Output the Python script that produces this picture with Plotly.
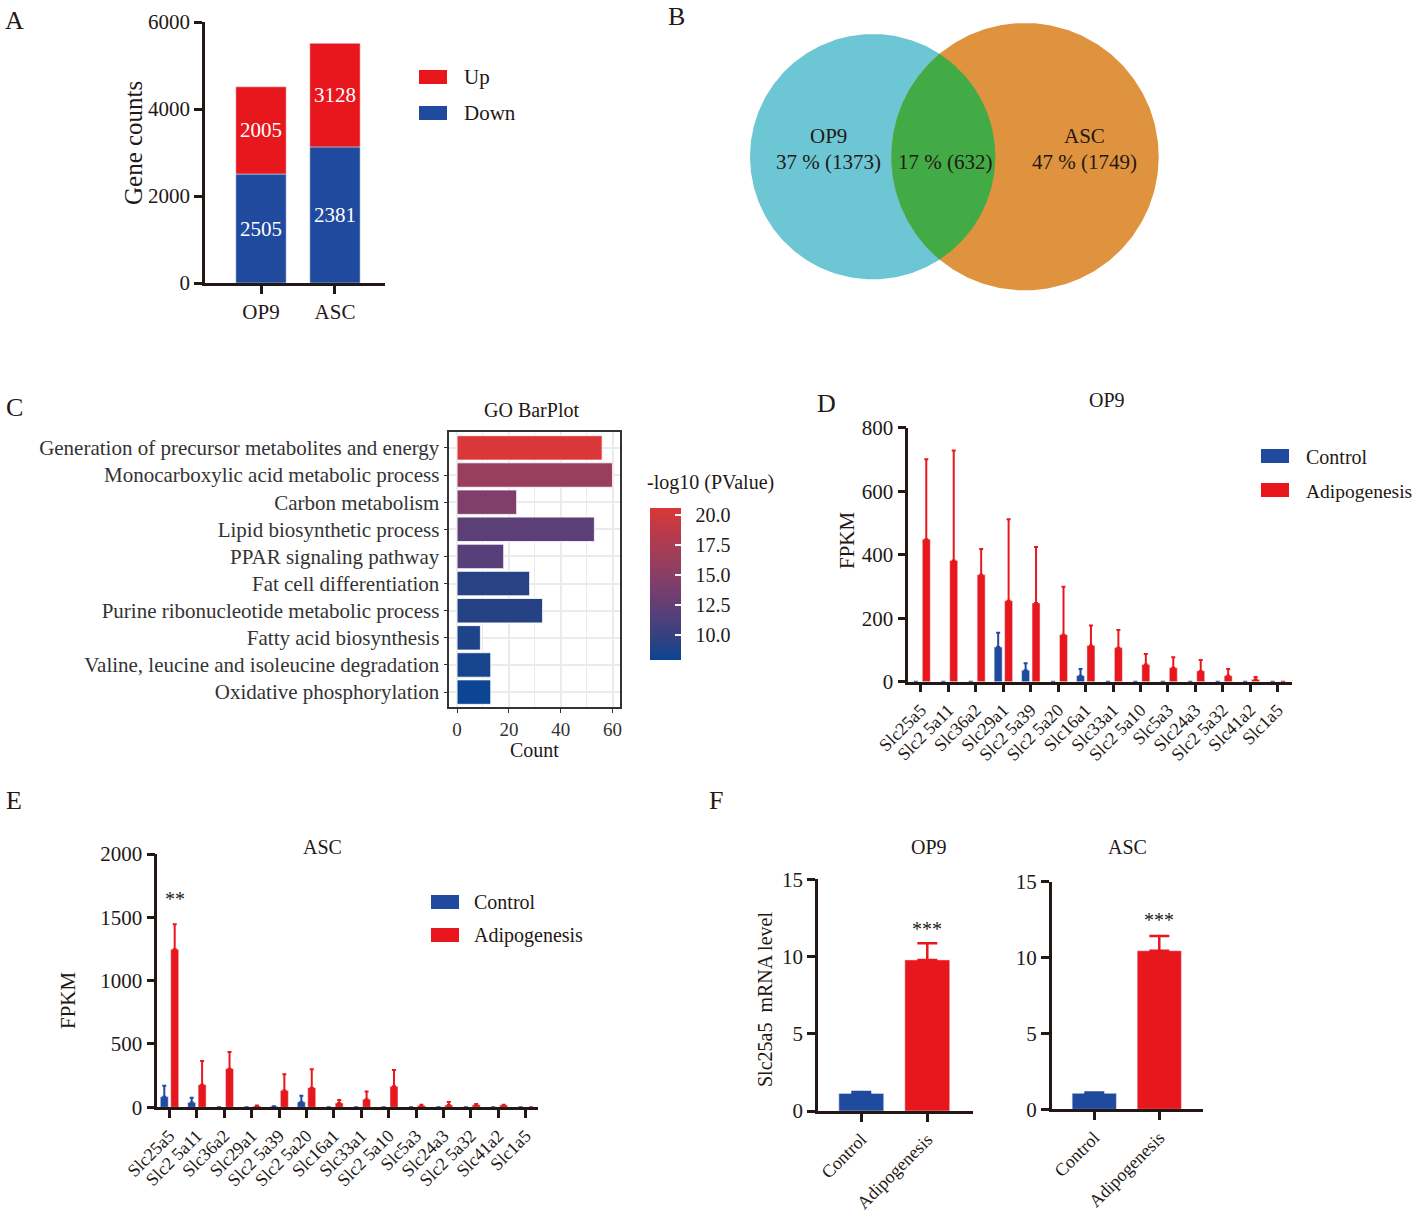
import numpy as np
import plotly.graph_objects as go

W, H = 1416, 1215
FONT = "Liberation Serif"
INK = "#231815"
RED = "#E8171D"
BLUE = "#1F4A9E"

# ---------------- data ----------------
# Panel A
a_groups = ["OP9", "ASC"]
a_down = [2505, 3128]
a_up = [2005, 2381]
a_down_labels = ["2505", "2381"]
a_up_labels = ["2005", "3128"]

# Panel B (Venn)
venn_names = ["OP9", "ASC"]
venn_only = [1373, 1749]
venn_shared = 632

# Panel C (GO barplot)
go_terms = [
    "Generation of precursor metabolites and energy",
    "Monocarboxylic acid metabolic process",
    "Carbon metabolism",
    "Lipid biosynthetic process",
    "PPAR signaling pathway",
    "Fat cell differentiation",
    "Purine ribonucleotide metabolic process",
    "Fatty acid biosynthesis",
    "Valine, leucine and isoleucine degradation",
    "Oxidative phosphorylation",
]
go_count = [56, 60, 23, 53, 18, 28, 33, 9, 13, 13]
go_logp = [20.6, 16.2, 14.3, 12.1, 11.7, 9.2, 9.1, 8.7, 8.4, 7.9]

# Panels D/E
genes = ["Slc25a5", "Slc2 5a11", "Slc36a2", "Slc29a1", "Slc2 5a39", "Slc2 5a20",
         "Slc16a1", "Slc33a1", "Slc2 5a10", "Slc5a3", "Slc24a3", "Slc2 5a32",
         "Slc41a2", "Slc1a5"]
d_ctrl = [0, 0, 0, 109, 36, 0, 19, 0, 0, 0, 0, 0, 0, 0]
d_ctrl_err = [0, 0, 0, 45, 22, 0, 21, 0, 0, 0, 0, 0, 0, 0]
d_adipo = [449, 382, 337, 255, 248, 148, 114, 107, 54, 44, 34, 19, 7, 0]
d_adipo_err = [252, 346, 81, 257, 176, 151, 63, 56, 33, 33, 34, 21, 8, 0]
e_ctrl = [84, 37, 0, 0, 8, 42, 0, 0, 0, 0, 0, 0, 0, 0]
e_ctrl_err = [87, 39, 0, 0, 0, 50, 0, 0, 0, 0, 0, 0, 0, 0]
e_adipo = [1247, 179, 305, 10, 132, 155, 34, 63, 166, 15, 18, 21, 18, 0]
e_adipo_err = [198, 187, 132, 5, 128, 145, 24, 61, 129, 5, 24, 5, 3, 0]

# Panel F
f_groups = ["Control", "Adipogenesis"]
f_op9 = [1.14, 9.78]
f_op9_err = [0.09, 1.08]
f_asc = [1.05, 10.45]
f_asc_err = [0.05, 0.97]


# ---------------- helpers ----------------
def xd(p0, p1):
    return [p0 / W, p1 / W]


def yd(top, bottom):
    return [1 - bottom / H, 1 - top / H]


def ann(text, px, py, size=20, angle=0, xanchor="center", yanchor="middle", color=INK):
    return dict(text=text, x=px / W, y=1 - py / H, xref="paper", yref="paper",
                showarrow=False, font=dict(family=FONT, size=size, color=color),
                textangle=angle, xanchor=xanchor, yanchor=yanchor)


def rect(x0, y0, x1, y1, color):
    return dict(type="rect", xref="paper", yref="paper", x0=x0 / W, x1=x1 / W,
                y0=1 - y1 / H, y1=1 - y0 / H, fillcolor=color, line_width=0, layer="above")


def line_axis(**kw):
    d = dict(showline=True, linecolor=INK, linewidth=2.5, ticks="outside", ticklen=8,
             tickwidth=2.5, tickcolor=INK, showgrid=False, zeroline=False, automargin=False,
             tickfont=dict(family=FONT, size=21, color=INK), fixedrange=True)
    d.update(kw)
    return d


fig = go.Figure()
annotations = []
shapes = []

# ---------------- Panel A ----------------
fig.add_trace(go.Bar(x=a_groups, y=a_down, marker_color=BLUE, width=0.68,
                     text=a_down_labels, textposition="inside", insidetextanchor="middle",
                     textangle=0, constraintext="none",
                     textfont=dict(family=FONT, size=21, color="white"),
                     xaxis="x", yaxis="y", hoverinfo="skip"))
fig.add_trace(go.Bar(x=a_groups, y=a_up, base=a_down, marker_color=RED, width=0.68,
                     text=a_up_labels, textposition="inside", insidetextanchor="middle",
                     textangle=0, constraintext="none",
                     textfont=dict(family=FONT, size=21, color="white"),
                     xaxis="x", yaxis="y", hoverinfo="skip"))
annotations.append(ann("A", 14, 20, size=26))
annotations.append(ann("Gene counts", 133, 143, size=25, angle=-90))
shapes.append(rect(419, 70, 447, 84, RED))
shapes.append(rect(419, 106, 447, 120, BLUE))
annotations.append(ann("Up", 462, 77, size=21, xanchor="left"))
annotations.append(ann("Down", 462, 113, size=21, xanchor="left"))

# ---------------- Panel B (Venn) ----------------
n1 = venn_only[0] + venn_shared
n2 = venn_only[1] + venn_shared
k = 2.74
r1 = k * np.sqrt(n1)
r2 = k * np.sqrt(n2)
dist = 152.3
t = np.linspace(0, 2 * np.pi, 400)
fig.add_trace(go.Scatter(x=r1 * np.cos(t), y=r1 * np.sin(t), fill="toself",
                         fillcolor="#6CC6D4", mode="lines", line=dict(width=0, color="#6CC6D4"),
                         xaxis="x2", yaxis="y2", hoverinfo="skip"))
fig.add_trace(go.Scatter(x=dist + r2 * np.cos(t), y=r2 * np.sin(t), fill="toself",
                         fillcolor="#E0933E", mode="lines", line=dict(width=0, color="#E0933E"),
                         xaxis="x2", yaxis="y2", hoverinfo="skip"))
xi = (dist ** 2 + r1 ** 2 - r2 ** 2) / (2 * dist)
yi = np.sqrt(r1 ** 2 - xi ** 2)
a1 = np.arctan2(yi, xi)
a2 = np.arctan2(yi, dist - xi)
s1 = np.linspace(-a1, a1, 200)
s2 = np.linspace(np.pi - a2, np.pi + a2, 200)
lx = np.concatenate([r1 * np.cos(s1), dist + r2 * np.cos(s2)])
ly = np.concatenate([r1 * np.sin(s1), r2 * np.sin(s2)])
fig.add_trace(go.Scatter(x=lx, y=ly, fill="toself", fillcolor="#42AB45", mode="lines",
                         line=dict(width=0, color="#42AB45"),
                         xaxis="x2", yaxis="y2", hoverinfo="skip"))
tot = venn_only[0] + venn_only[1] + venn_shared
pct = lambda v: f"{round(100 * v / tot):d} % ({v})"


def vann(text, x, y):
    return dict(text=text, x=x, y=y, xref="x2", yref="y2", showarrow=False,
                font=dict(family=FONT, size=21, color=INK))


annotations += [
    vann(venn_names[0], -44.7, 20.7), vann(pct(venn_only[0]), -44.7, -5.3),
    vann(pct(venn_shared), 72.3, -5.3),
    vann(venn_names[1], 211.3, 20.7), vann(pct(venn_only[1]), 211.3, -5.3),
]
annotations.append(ann("B", 676, 16, size=26))

# ---------------- Panel C ----------------
cscale = [[0.0, "#0B4594"], [0.1, "#274283"], [0.3, "#573F79"], [0.5, "#7E3E6B"],
          [0.65, "#983E5D"], [0.82, "#B53B4C"], [1.0, "#DA3838"]]
fig.add_trace(go.Bar(
    y=go_terms, x=go_count, orientation="h", width=0.9,
    marker=dict(color=go_logp, colorscale=cscale, cmin=min(go_logp), cmax=max(go_logp),
                line=dict(color="white", width=0.8),
                colorbar=dict(x=649.5 / W, xanchor="left", y=1 - 507.7 / H, yanchor="top",
                              len=152.3, lenmode="pixels", thickness=31, thicknessmode="pixels",
                              outlinewidth=0, ticks="inside", tickcolor="white", ticklen=6,
                              tickwidth=1.5, tickvals=[10, 12.5, 15, 17.5, 20],
                              ticktext=["\u00a0\u00a010.0", "\u00a0\u00a012.5", "\u00a0\u00a015.0",
                                        "\u00a0\u00a017.5", "\u00a0\u00a020.0"],
                              tickfont=dict(family=FONT, size=20, color=INK),
                              xpad=0, ypad=0)),
    xaxis="x3", yaxis="y3", hoverinfo="skip"))
annotations.append(ann("C", 14, 407, size=26))
annotations.append(ann("GO BarPlot", 531, 410, size=20))
annotations.append(ann("Count", 534, 750, size=20))
annotations.append(ann("-log10 (PValue)", 645, 483, size=20, xanchor="left"))


# ---------------- Panel D ----------------
def grouped(xn, yn, ctrl, ctrl_err, adipo, adipo_err):
    z = [0] * len(genes)
    ce = [e if v > 0 else None for v, e in zip(ctrl, ctrl_err)]
    ae = [e if v > 0 else None for v, e in zip(adipo, adipo_err)]
    fig.add_trace(go.Bar(x=genes, y=ctrl, width=0.29, offset=-0.33, marker_color=BLUE,
                         error_y=dict(type="data", symmetric=False, array=ce, arrayminus=z,
                                      color=BLUE, thickness=2, width=2),
                         xaxis=xn, yaxis=yn, hoverinfo="skip"))
    fig.add_trace(go.Bar(x=genes, y=adipo, width=0.29, offset=0.05, marker_color=RED,
                         error_y=dict(type="data", symmetric=False, array=ae, arrayminus=z,
                                      color=RED, thickness=2, width=2),
                         xaxis=xn, yaxis=yn, hoverinfo="skip"))


grouped("x4", "y4", d_ctrl, d_ctrl_err, d_adipo, d_adipo_err)
annotations.append(ann("D", 826, 404, size=26))
annotations.append(ann("OP9", 1107, 400, size=20))
annotations.append(ann("FPKM", 847, 540, size=21, angle=-90))
shapes.append(rect(1261, 449, 1289, 463, BLUE))
shapes.append(rect(1261, 483, 1289, 497, RED))
annotations.append(ann("Control", 1304, 457, xanchor="left"))
annotations.append(ann("Adipogenesis", 1304, 491, size=19.5, xanchor="left"))

# ---------------- Panel E ----------------
grouped("x5", "y5", e_ctrl, e_ctrl_err, e_adipo, e_adipo_err)
annotations.append(ann("E", 14, 801, size=26))
annotations.append(ann("ASC", 322, 847, size=20))
annotations.append(ann("FPKM", 68, 1000, size=21, angle=-90))
annotations.append(dict(text="**", x=genes[0], y=1644, xref="x5", yref="y5", xshift=6,
                        showarrow=False, font=dict(family=FONT, size=20, color=INK)))
shapes.append(rect(431, 895, 459, 909, BLUE))
shapes.append(rect(431, 928, 459, 942, RED))
annotations.append(ann("Control", 472, 902, xanchor="left"))
annotations.append(ann("Adipogenesis", 472, 935, xanchor="left"))

# ---------------- Panel F ----------------
for vals, errs, xn, yn in [(f_op9, f_op9_err, "x6", "y6"), (f_asc, f_asc_err, "x7", "y7")]:
    for i, col in enumerate([BLUE, RED]):
        fig.add_trace(go.Bar(x=[f_groups[i]], y=[vals[i]], width=0.68, marker_color=col,
                             error_y=dict(type="data", symmetric=False, array=[errs[i]],
                                          arrayminus=[0], color=col, thickness=2.5, width=10),
                             xaxis=xn, yaxis=yn, hoverinfo="skip"))
annotations.append(ann("F", 716, 801, size=26))
annotations.append(ann("OP9", 929, 847, size=20))
annotations.append(ann("ASC", 1127, 847, size=20))
annotations.append(ann("Slc25a5  mRNA level", 765, 1000, size=20, angle=-90))
annotations.append(dict(text="***", x=f_groups[1], y=11.8, xref="x6", yref="y6",
                        showarrow=False, font=dict(family=FONT, size=20, color=INK)))
annotations.append(dict(text="***", x=f_groups[1], y=12.5, xref="x7", yref="y7",
                        showarrow=False, font=dict(family=FONT, size=20, color=INK)))

# ---------------- layout ----------------
fig.update_layout(
    width=W, height=H, margin=dict(l=0, r=0, t=0, b=0, autoexpand=False),
    paper_bgcolor="white", plot_bgcolor="white", showlegend=False,
    barmode="overlay", font=dict(family=FONT, color=INK),
    xaxis=line_axis(domain=xd(205, 385), range=[-0.757, 1.676], anchor="y"),
    yaxis=line_axis(domain=yd(22, 283), range=[0, 6000], dtick=2000, anchor="x"),
    xaxis2=dict(domain=xd(740, 1170), range=[740 - 872.7, 1170 - 872.7], visible=False,
                anchor="y2", fixedrange=True),
    yaxis2=dict(domain=yd(15, 300), range=[156.7 - 300, 156.7 - 15], visible=False,
                anchor="x2", fixedrange=True),
    xaxis3=dict(domain=xd(449.3, 620.3), range=[-3, 63], anchor="y3", tickvals=[0, 20, 40, 60],
                showline=True, mirror=True, linecolor="#333333", linewidth=1.5,
                ticks="outside", ticklen=4, tickwidth=1.2, tickcolor="#333333",
                showgrid=True, gridcolor="#EBEBEB", gridwidth=1.6, zeroline=False, automargin=False,
                minor=dict(tickvals=[10, 30, 50], showgrid=True, gridcolor="#EBEBEB", gridwidth=1.2),
                tickfont=dict(family=FONT, size=19, color="#333333"), fixedrange=True),
    yaxis3=dict(domain=yd(432.3, 707.3), range=[9.56, -0.575], anchor="x3",
                showline=True, mirror=True, linecolor="#333333", linewidth=1.5,
                ticks="outside", ticklen=4, tickwidth=1.2, tickcolor="#333333",
                showgrid=True, gridcolor="#EBEBEB", gridwidth=1.6, zeroline=False, automargin=False,
                tickfont=dict(family=FONT, size=21, color="#333333"), fixedrange=True),
    xaxis4=line_axis(domain=xd(908.3, 1291.7), range=[-0.46, 13.51], anchor="y4",
                     tickangle=-45, tickfont=dict(family=FONT, size=18, color=INK)),
    yaxis4=line_axis(domain=yd(427.7, 681.7), range=[0, 800], dtick=200, anchor="x4"),
    xaxis5=line_axis(domain=xd(157.3, 538.3), range=[-0.44, 13.46], anchor="y5",
                     tickangle=-45, tickfont=dict(family=FONT, size=18, color=INK)),
    yaxis5=line_axis(domain=yd(854, 1107.3), range=[0, 2000], dtick=500, anchor="x5"),
    xaxis6=line_axis(domain=xd(818, 972.7), range=[-0.656, 1.688], anchor="y6",
                     tickangle=-45, tickfont=dict(family=FONT, size=18, color=INK)),
    yaxis6=line_axis(domain=yd(879.3, 1111), range=[0, 15], dtick=5, anchor="x6"),
    xaxis7=line_axis(domain=xd(1051.7, 1203.3), range=[-0.655, 1.677], anchor="y7",
                     tickangle=-45, tickfont=dict(family=FONT, size=18, color=INK)),
    yaxis7=line_axis(domain=yd(881.7, 1109.3), range=[0, 15], dtick=5, anchor="x7"),
    annotations=annotations, shapes=shapes,
)

fig.write_html("out.html", config={"displayModeBar": False},
               post_script="document.body.style.margin='0';document.body.style.overflow='hidden';")
